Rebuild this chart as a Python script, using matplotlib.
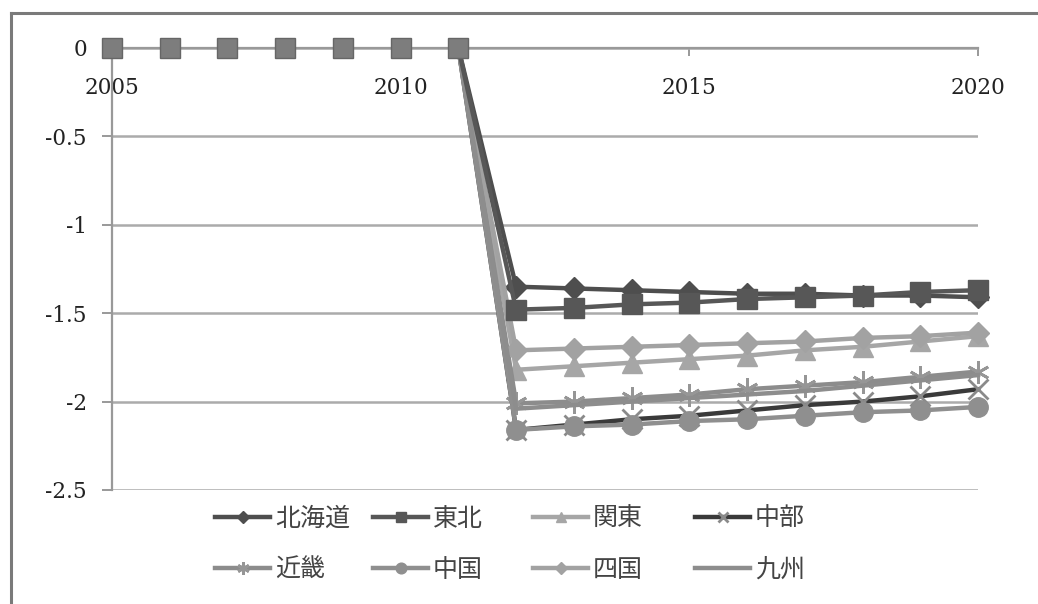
import matplotlib
matplotlib.use("Agg")
import matplotlib.pyplot as plt
from matplotlib.lines import Line2D

plt.rcParams['axes.unicode_minus'] = False

# Years on the horizontal axis
base_years = [2005, 2006, 2007, 2008, 2009, 2010, 2011]
base_values = [0, 0, 0, 0, 0, 0, 0]

years = [2011, 2012, 2013, 2014, 2015, 2016, 2017, 2018, 2019, 2020]

hokkaido = [0, -1.35, -1.36, -1.37, -1.38, -1.39, -1.39, -1.40, -1.40, -1.41]
tohoku   = [0, -1.48, -1.47, -1.45, -1.44, -1.42, -1.41, -1.40, -1.38, -1.37]
kanto    = [0, -1.82, -1.80, -1.78, -1.76, -1.74, -1.71, -1.69, -1.66, -1.63]
chubu    = [0, -2.16, -2.13, -2.10, -2.08, -2.05, -2.02, -2.00, -1.97, -1.93]
kinki    = [0, -2.01, -2.00, -1.98, -1.96, -1.93, -1.91, -1.89, -1.86, -1.83]
chugoku  = [0, -2.16, -2.14, -2.13, -2.11, -2.10, -2.08, -2.06, -2.05, -2.03]
shikoku  = [0, -1.71, -1.70, -1.69, -1.68, -1.67, -1.66, -1.64, -1.63, -1.61]
kyushu   = [0, -2.04, -2.02, -2.00, -1.98, -1.96, -1.94, -1.91, -1.88, -1.85]

region_names = ['北海道', '東北', '関東', '中部', '近畿', '中国', '四国', '九州']

x_ticks = [2005, 2010, 2015, 2020]
y_ticks = [0, -0.5, -1, -1.5, -2, -2.5]
y_tick_labels = ['0', '-0.5', '-1', '-1.5', '-2', '-2.5']

W, H = 1038, 604
fig = plt.figure(figsize=(W / 100, H / 100), dpi=100)
fig.patch.set_facecolor('white')

# outer frame (top and left edges)
frame_col = '#7a7a7a'
fig.add_artist(Line2D([11 / W, 11 / W], [0, 1 - 13 / H], transform=fig.transFigure,
                      color=frame_col, lw=2.2))
fig.add_artist(Line2D([11 / W, 1], [1 - 13 / H, 1 - 13 / H], transform=fig.transFigure,
                      color=frame_col, lw=2.2))

ax = fig.add_axes([112 / W, 1 - 490 / H, (978 - 112) / W, (490 - 48) / H])
ax.set_xlim(2005, 2020)
ax.set_ylim(-2.5, 0)
ax.set_facecolor('white')

for s in ['top', 'right']:
    ax.spines[s].set_visible(False)
ax.spines['bottom'].set_position(('data', 0))
ax.spines['bottom'].set_color('#999999')
ax.spines['bottom'].set_linewidth(1.6)
ax.spines['left'].set_color('#999999')
ax.spines['left'].set_linewidth(1.6)

ax.set_yticks(y_ticks)
ax.set_yticklabels(y_tick_labels)
ax.set_xticks(x_ticks)
ax.set_xticklabels([str(v) for v in x_ticks])

for lab in ax.get_xticklabels() + ax.get_yticklabels():
    lab.set_fontfamily('DejaVu Serif')
    lab.set_fontsize(15.5)
    lab.set_color('#222222')
ax.tick_params(axis='x', direction='out', length=6, width=1.4, color='#999999', pad=15)
ax.tick_params(axis='y', direction='out', length=7, width=1.4, color='#999999', pad=11)

ax.yaxis.grid(True, color='#ababab', lw=1.8)
ax.set_axisbelow(True)

lw = 3.2
ms = 14
series = [
    (hokkaido, dict(color='#4e4e4e', marker='D', ms=ms - 3, mfc='#4e4e4e', mec='#4e4e4e')),
    (tohoku,   dict(color='#575757', marker='s', ms=ms, mfc='#575757', mec='#575757')),
    (kanto,    dict(color='#a6a6a6', marker='^', ms=ms, mfc='#a6a6a6', mec='#a6a6a6')),
    (chubu,    dict(color='#3a3a3a', marker='x', ms=ms, mec='#8a8a8a', mew=2.0)),
    (kinki,    dict(color='#8c8c8c', marker=(6, 2, 0), ms=ms + 2, mec='#969696', mew=2.0)),
    (chugoku,  dict(color='#8f8f8f', marker='o', ms=ms, mfc='#8f8f8f', mec='#8f8f8f')),
    (shikoku,  dict(color='#a2a2a2', marker='D', ms=ms - 3, mfc='#a2a2a2', mec='#a2a2a2')),
    (kyushu,   dict(color='#8d8d8d', marker='None')),
]
zorders = [3, 10, 4, 5, 6, 7, 8, 9]

handles = []
for (vals, st), name, z in zip(series, region_names, zorders):
    ln, = ax.plot(years, vals, lw=lw, label=name, zorder=z, clip_on=False,
                  markevery=list(range(1, len(years))), **st)
    handles.append(ln)

# zero-level markers before the change
ax.plot(base_years, base_values, linestyle='None', marker='s', ms=15,
        mfc='#7d7d7d', mec='#666666', mew=1.0, zorder=11, clip_on=False)

# legend: four columns of two rows each
col_x = [215, 373, 533, 695]
leg_top = 506
for i, cx in enumerate(col_x):
    hs = [handles[i], handles[i + 4]]
    leg = fig.legend(handles=hs, labels=[region_names[i], region_names[i + 4]],
                     loc='upper left', bbox_to_anchor=(cx / W, 1 - leg_top / H),
                     bbox_transform=fig.transFigure, frameon=False,
                     prop={'family': ['Noto Sans CJK JP', 'DejaVu Sans'], 'size': 18},
                     handlelength=2.2, handletextpad=0.2, borderpad=0, borderaxespad=0,
                     labelspacing=1.0, markerscale=0.55)
    for t in leg.get_texts():
        t.set_color('#444444')

fig.savefig('out.png', dpi=100, facecolor='white')
